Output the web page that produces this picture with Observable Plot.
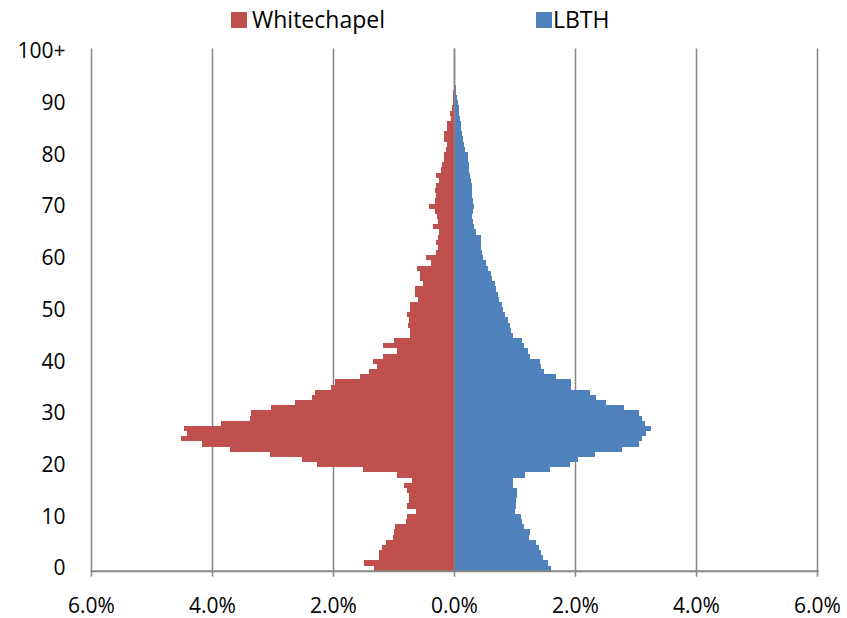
<!DOCTYPE html>
<html>
<head>
<meta charset="utf-8">
<script src="https://cdn.jsdelivr.net/npm/d3@7"></script>
<script src="https://cdn.jsdelivr.net/npm/@observablehq/plot@0.6"></script>
<style>
  html, body { margin: 0; padding: 0; background: #fff; }
  #wrap { width: 847px; height: 618px; position: relative; font-family: "Open Sans", sans-serif; }
  #legend { position: relative; height: 30px; width: 847px; }
  .sw { position: absolute; top: 12px; width: 16px; height: 16px; }
  .lt { position: absolute; top: 3px; font-size: 23px; line-height: 32px; color: #000; }
  svg { display: block; }
</style>
</head>
<body>
<div id="wrap">
  <div id="legend">
    <div class="sw" style="left:231px;background:#C0504D"></div>
    <div class="lt" style="left:252px">Whitechapel</div>
    <div class="sw" style="left:536px;background:#4F81BD"></div>
    <div class="lt" style="left:553px">LBTH</div>
  </div>
  <div id="chart"></div>
</div>
<script>
const ages = [0,1,2,3,4,5,6,7,8,9,10,11,12,13,14,15,16,17,18,19,20,21,22,23,24,25,26,27,28,29,30,31,32,33,34,35,36,37,38,39,40,41,42,43,44,45,46,47,48,49,50,51,52,53,54,55,56,57,58,59,60,61,62,63,64,65,66,67,68,69,70,71,72,73,74,75,76,77,78,79,80,81,82,83,84,85,86,87,88,89,90,91,92,93,94,95,96,97,98,99,100];

const whitechapel = [1.33,1.49,1.24,1.24,1.19,1.12,1.01,1.00,0.97,0.79,
  0.77,0.63,0.77,0.74,0.75,0.77,0.82,0.70,0.95,1.50,
  2.26,2.52,3.04,3.71,4.17,4.51,4.42,4.46,3.85,3.38,
  3.36,3.02,2.62,2.35,2.29,2.03,1.97,1.55,1.40,1.27,
  1.34,1.17,0.94,1.18,1.00,0.72,0.72,0.76,0.75,0.77,
  0.73,0.73,0.59,0.65,0.65,0.52,0.56,0.57,0.61,0.38,
  0.47,0.30,0.27,0.29,0.27,0.24,0.34,0.26,0.28,0.32,
  0.42,0.32,0.29,0.31,0.29,0.24,0.29,0.21,0.20,0.16,
  0.16,0.14,0.12,0.16,0.16,0.11,0.11,0.05,0.06,0.03,
  0.02,0.01,0.01,0,0,0,0,0,0,0,0];

const lbth = [1.60,1.56,1.47,1.44,1.40,1.35,1.24,1.26,1.16,1.13,
  1.10,1.01,1.02,1.03,1.04,1.04,0.98,0.98,1.17,1.58,
  1.91,2.05,2.33,2.77,3.06,3.11,3.18,3.25,3.16,3.10,
  3.06,2.81,2.52,2.35,2.24,1.93,1.93,1.68,1.48,1.44,
  1.42,1.25,1.23,1.16,1.12,0.98,0.95,0.93,0.90,0.84,
  0.81,0.79,0.74,0.72,0.69,0.67,0.63,0.61,0.56,0.53,
  0.48,0.47,0.45,0.45,0.45,0.36,0.33,0.31,0.30,0.32,
  0.33,0.31,0.29,0.29,0.29,0.28,0.27,0.25,0.25,0.23,
  0.23,0.19,0.17,0.15,0.14,0.12,0.11,0.10,0.09,0.08,
  0.07,0.05,0.04,0.03,0.02,0.02,0.01,0.01,0.01,0,0.01];

const yTicks = [0,10,20,30,40,50,60,70,80,90,100];
const yTickLabels = ["0","10","20","30","40","50","60","70","80","90","100+"];
const xTicks = [-6,-4,-2,0,2,4,6];
const xTickLabels = ["6.0%","4.0%","2.0%","0.0%","2.0%","4.0%","6.0%"];

const rowsW = ages.map((a, i) => ({age: a, value: whitechapel[i]}));
const rowsL = ages.map((a, i) => ({age: a, value: lbth[i]}));

const grid = "#868686";

const chart = Plot.plot({
  width: 847,
  height: 588,
  marginLeft: 91,
  marginRight: 30,
  marginTop: 18.5,
  marginBottom: 47.3,
  style: {fontFamily: "Open Sans, sans-serif", fontSize: "21px", color: "#000", background: "#fff"},
  x: {domain: [-6, 6], label: null},
  y: {type: "band", domain: ages.slice().reverse(), padding: 0, round: false, label: null},
  marks: [
    Plot.ruleX(xTicks, {stroke: grid, strokeWidth: 1.5}),
    Plot.barX(rowsW, {y: "age", x1: 0, x2: d => -d.value, fill: "#C0504D", inset: 0, shapeRendering: "crispEdges"}),
    Plot.barX(rowsL, {y: "age", x1: 0, x2: "value", fill: "#4F81BD", inset: 0, shapeRendering: "crispEdges"}),
    Plot.ruleX([0], {stroke: grid, strokeWidth: 1.5}),
    Plot.frame({anchor: "bottom", stroke: grid, strokeWidth: 2}),
    Plot.axisX({ticks: xTicks, tickFormat: d => xTickLabels[xTicks.indexOf(d)], tickSize: 6, tickPadding: 21, stroke: grid, strokeWidth: 1.5, fontSize: 21, fill: "#000", label: null}),
    Plot.axisY({ticks: yTicks, tickFormat: d => yTickLabels[yTicks.indexOf(d)], tickSize: 0, tickPadding: 26, fontSize: 21, fill: "#000", label: null})
  ]
});
document.getElementById("chart").appendChild(chart);
</script>
</body>
</html>
